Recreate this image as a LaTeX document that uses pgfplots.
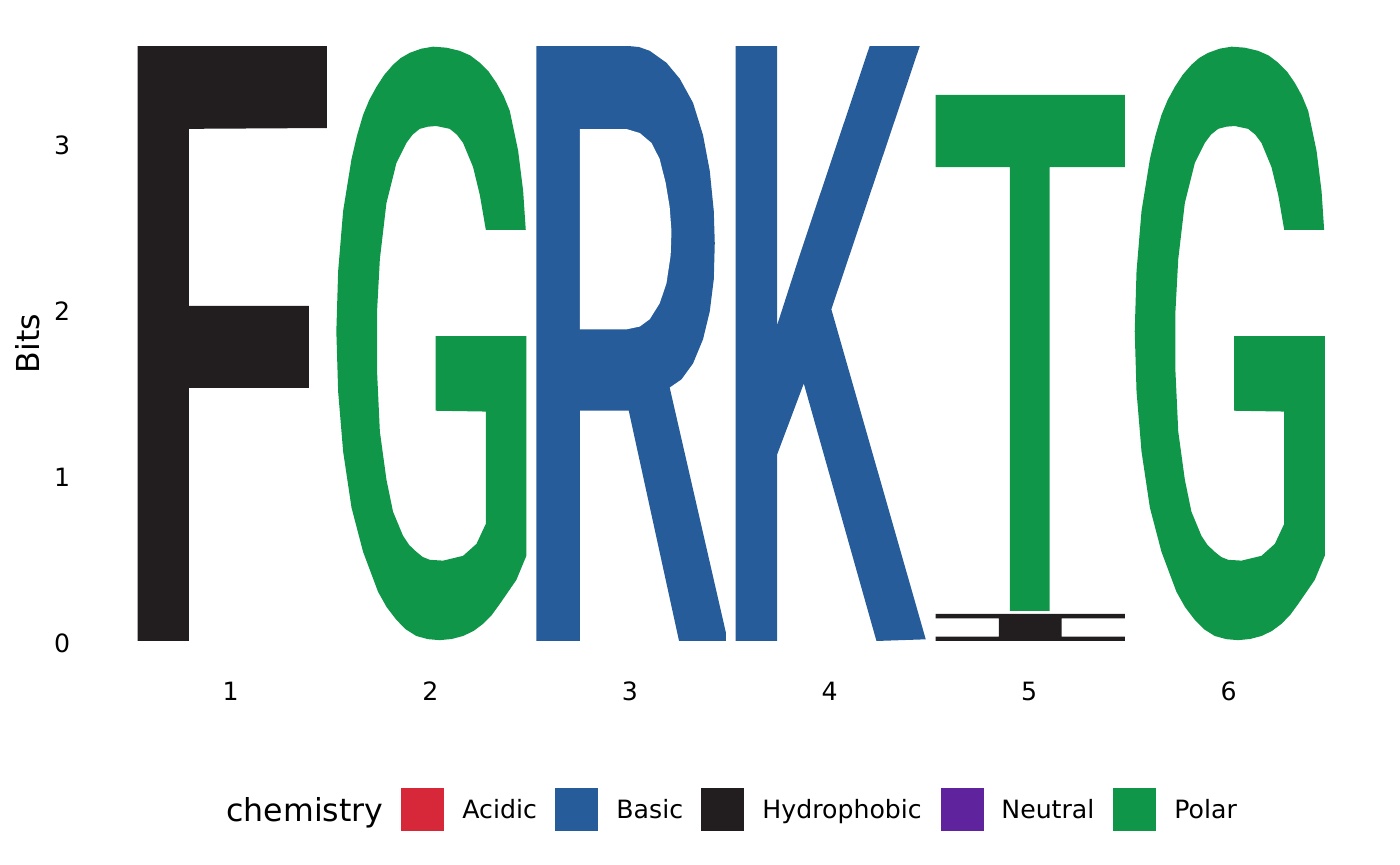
\documentclass[border=0pt]{standalone}
\usepackage{fontspec}
\setmainfont{DejaVu Sans}
\usepackage{pgfplots}
\pgfplotsset{compat=1.18}
\definecolor{acidic}{HTML}{D62839}
\definecolor{basic}{HTML}{255C99}
\definecolor{hydro}{HTML}{221E1F}
\definecolor{neutral}{HTML}{5E239D}
\definecolor{polar}{HTML}{109648}
\begin{document}
\begin{tikzpicture}
\useasboundingbox (-55.5pt,-97.15pt) rectangle (644.5pt,335.35pt);
\begin{axis}[
  scale only axis, width=618.75pt, height=327.2pt,
  xmin=0.4, xmax=6.6, ymin=-0.179, ymax=3.763,
  axis line style={draw=none}, major tick length=0pt, tick style={draw=none},
  xtick={1,2,3,4,5,6}, ytick={0,1,2,3},
  /pgf/number format/assume math mode=true,
  ticklabel style={font=\fontsize{12.6}{15}\selectfont},
  xticklabel style={anchor=base, inner sep=0pt, yshift=-14.75pt},
  yticklabel style={anchor=east, inner sep=0pt, xshift=-20.25pt, yshift=-1pt},
  ylabel={Bits},
  ylabel style={at={(axis description cs:-0.0671,0.5)}, anchor=center, font=\fontsize{15.8}{19}\selectfont},
]
% position 1: F
\addplot[fill=hydro, draw=none] coordinates {
 (0.534,0) (0.790,0) (0.790,1.524) (1.391,1.524) (1.391,2.018) (0.790,2.018)
 (0.790,3.085) (1.481,3.090) (1.481,3.584) (0.534,3.584)};
% position 2: G
\addplot[fill=polar, draw=none] coordinates {
 (2.478,2.476) (2.465,2.710) (2.440,2.952) (2.398,3.193) (2.367,3.284) (2.331,3.362)
 (2.292,3.430) (2.248,3.483) (2.200,3.527) (2.147,3.555) (2.080,3.574) (2.014,3.580)
 (1.955,3.568) (1.897,3.543) (1.852,3.512) (1.813,3.471) (1.769,3.410) (1.730,3.338)
 (1.694,3.259) (1.663,3.169) (1.632,3.042)
 (1.605,2.903) (1.563,2.590) (1.538,2.227) (1.529,1.865) (1.538,1.503) (1.563,1.141)
 (1.605,0.803) (1.663,0.537) (1.738,0.296) (1.781,0.204) (1.830,0.127) (1.877,0.070)
 (1.930,0.030) (1.988,0.011) (2.047,0.005) (2.107,0.012)
 (2.164,0.030) (2.216,0.060) (2.264,0.103) (2.308,0.157) (2.348,0.223) (2.431,0.368) (2.481,0.513)
 (2.481,1.836) (2.027,1.836) (2.027,1.387) (2.278,1.382) (2.278,0.706)
 (2.231,0.585) (2.164,0.513) (2.064,0.484) (1.997,0.489) (1.962,0.506) (1.930,0.537)
 (1.894,0.578) (1.863,0.634)
 (1.813,0.779) (1.780,0.972) (1.747,1.262) (1.733,1.624) (1.733,1.986) (1.747,2.300)
 (1.780,2.638) (1.830,2.879) (1.880,3.000) (1.911,3.050) (1.947,3.085) (1.988,3.098)
 (2.030,3.102) (2.097,3.085) (2.133,3.050)
 (2.164,3.000) (2.214,2.855) (2.248,2.686) (2.278,2.476)};
% position 3: R
\addplot[fill=basic, draw=none] coordinates {
 (2.531,0) (2.531,3.584) (2.991,3.584) (3.045,3.578) (3.099,3.555) (3.183,3.483) (3.250,3.386)
 (3.316,3.242) (3.366,3.048) (3.400,2.831) (3.420,2.590) (3.425,2.396) (3.420,2.179)
 (3.400,1.986) (3.366,1.817) (3.316,1.672) (3.258,1.576) (3.199,1.527)
 (3.480,0.054) (3.480,0) (3.246,0) (2.994,1.387) (2.749,1.387) (2.749,0)};
\addplot[fill=white, draw=none] coordinates {
 (2.749,3.084) (2.982,3.084) (3.049,3.060) (3.108,3.000) (3.149,2.903) (3.179,2.759)
 (3.199,2.614) (3.208,2.469) (3.204,2.324) (3.183,2.155) (3.149,2.034) (3.099,1.938)
 (3.049,1.894) (2.982,1.877) (2.749,1.877)};
% position 4: K
\addplot[fill=basic, draw=none] coordinates {
 (3.530,0) (3.530,3.584) (3.737,3.584) (3.737,1.901) (3.851,2.326) (4.201,3.584)
 (4.452,3.584) (4.009,1.998) (4.482,0.010) (4.235,0) (3.871,1.551) (3.737,1.122)
 (3.737,0)};
% position 5: I (small) and T
\addplot[fill=hydro, draw=none] coordinates {
 (4.531,0) (5.479,0) (5.479,0.027) (5.163,0.027) (5.163,0.136) (5.479,0.136)
 (5.479,0.163) (4.531,0.163) (4.531,0.136) (4.848,0.136) (4.848,0.027) (4.531,0.027)};
\addplot[fill=polar, draw=none] coordinates {
 (4.903,0.181) (5.103,0.181) (5.103,2.855) (5.479,2.855) (5.479,3.289) (4.532,3.289)
 (4.532,2.855) (4.903,2.855)};
% position 6: G
\addplot[fill=polar, draw=none] coordinates {
 (6.478,2.476) (6.465,2.710) (6.440,2.952) (6.398,3.193) (6.367,3.284) (6.331,3.362)
 (6.292,3.430) (6.248,3.483) (6.200,3.527) (6.147,3.555) (6.080,3.574) (6.014,3.580)
 (5.955,3.568) (5.897,3.543) (5.852,3.512) (5.813,3.471) (5.769,3.410) (5.730,3.338)
 (5.694,3.259) (5.663,3.169) (5.632,3.042)
 (5.605,2.903) (5.563,2.590) (5.538,2.227) (5.529,1.865) (5.538,1.503) (5.563,1.141)
 (5.605,0.803) (5.663,0.537) (5.738,0.296) (5.781,0.204) (5.830,0.127) (5.877,0.070)
 (5.930,0.030) (5.988,0.011) (6.047,0.005) (6.107,0.012)
 (6.164,0.030) (6.216,0.060) (6.264,0.103) (6.308,0.157) (6.348,0.223) (6.431,0.368) (6.481,0.513)
 (6.481,1.836) (6.027,1.836) (6.027,1.387) (6.278,1.382) (6.278,0.706)
 (6.231,0.585) (6.164,0.513) (6.064,0.484) (5.997,0.489) (5.962,0.506) (5.930,0.537)
 (5.894,0.578) (5.863,0.634)
 (5.813,0.779) (5.780,0.972) (5.747,1.262) (5.733,1.624) (5.733,1.986) (5.747,2.300)
 (5.780,2.638) (5.830,2.879) (5.880,3.000) (5.911,3.050) (5.947,3.085) (5.988,3.098)
 (6.030,3.102) (6.097,3.085) (6.133,3.050)
 (6.164,3.000) (6.214,2.855) (6.248,2.686) (6.278,2.476)};
\end{axis}
% legend
\node[anchor=base west, inner sep=0pt, font=\fontsize{15.8}{19}\selectfont] at (57.5pt,-75.4pt) {chemistry};
\fill[acidic] (145pt,-58.65pt) rectangle (166.5pt,-80.15pt);
\node[anchor=base west, inner sep=0pt, font=\fontsize{12.6}{15}\selectfont] at (175.5pt,-74.15pt) {Acidic};
\fill[basic] (222pt,-58.65pt) rectangle (243.5pt,-80.15pt);
\node[anchor=base west, inner sep=0pt, font=\fontsize{12.6}{15}\selectfont] at (252.5pt,-74.15pt) {Basic};
\fill[hydro] (295pt,-58.65pt) rectangle (316.5pt,-80.15pt);
\node[anchor=base west, inner sep=0pt, font=\fontsize{12.6}{15}\selectfont] at (325.5pt,-74.15pt) {Hydrophobic};
\fill[neutral] (415pt,-58.65pt) rectangle (436.5pt,-80.15pt);
\node[anchor=base west, inner sep=0pt, font=\fontsize{12.6}{15}\selectfont] at (445pt,-74.15pt) {Neutral};
\fill[polar] (501pt,-58.65pt) rectangle (522.5pt,-80.15pt);
\node[anchor=base west, inner sep=0pt, font=\fontsize{12.6}{15}\selectfont] at (531.5pt,-74.15pt) {Polar};
\end{tikzpicture}
\end{document}
